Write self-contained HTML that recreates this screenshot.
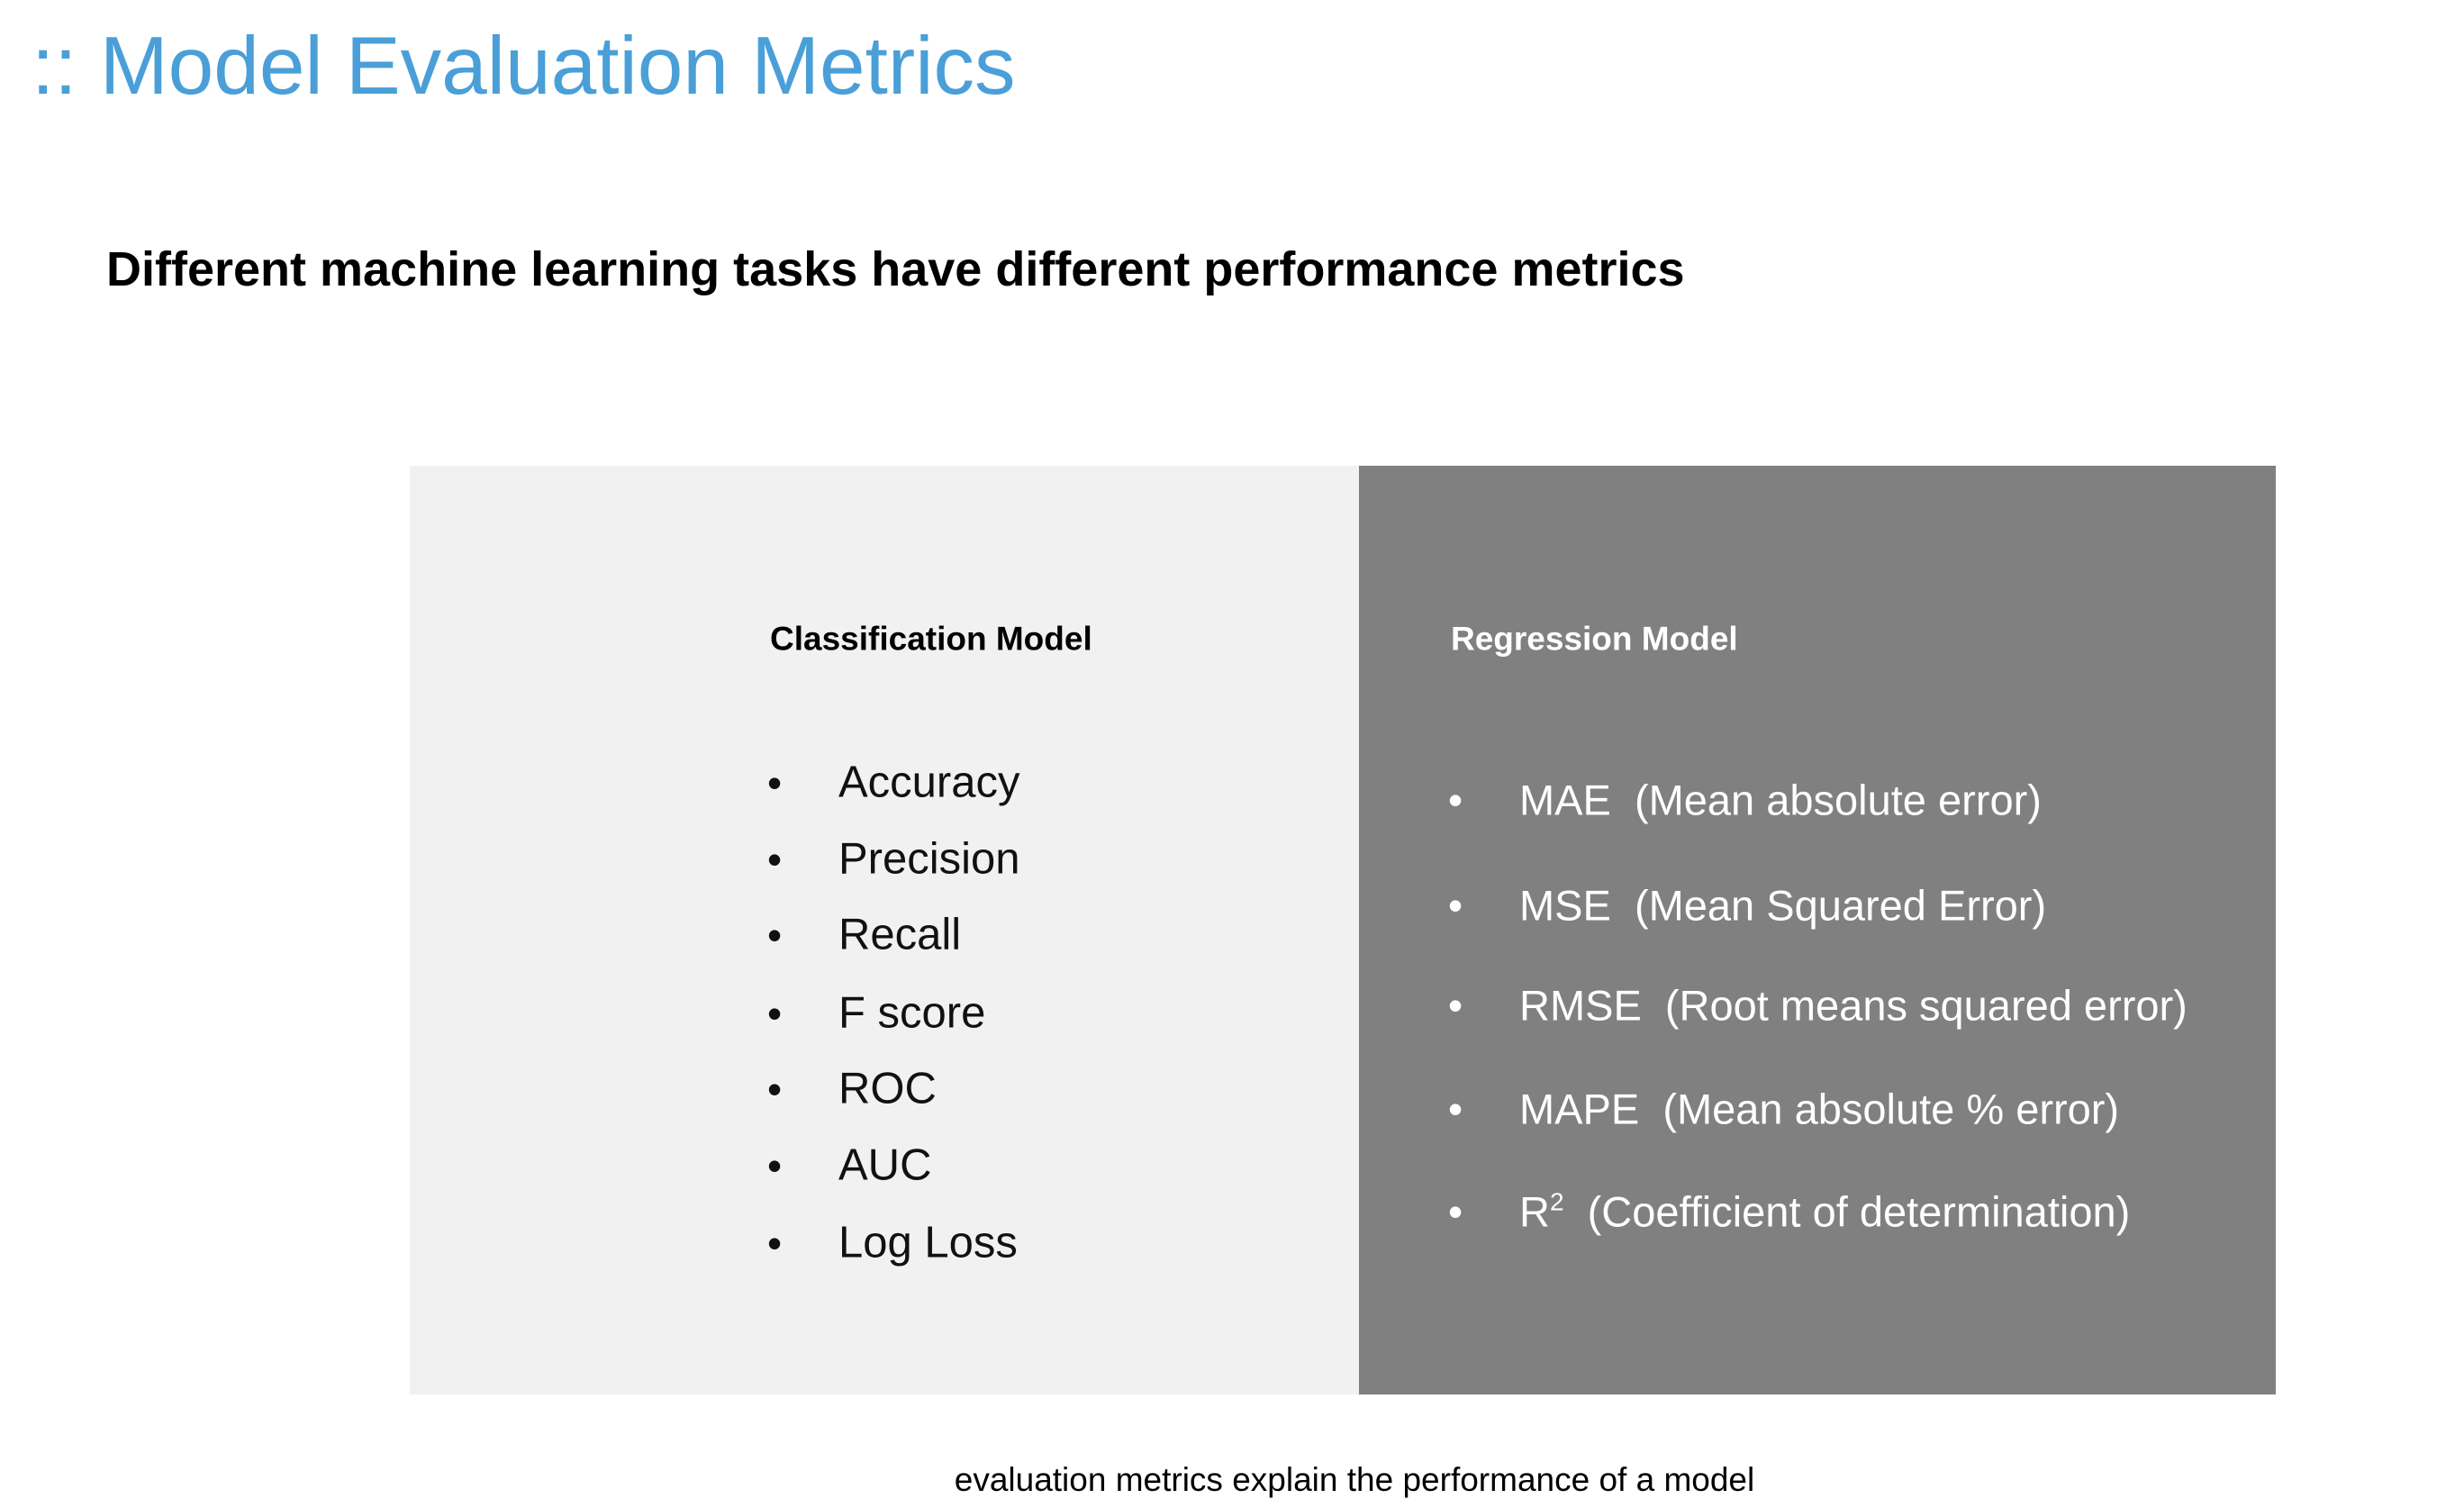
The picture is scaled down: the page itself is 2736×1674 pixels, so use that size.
<!DOCTYPE html>
<html><head><meta charset="utf-8"><style>
body{margin:0;width:2736px;height:1674px;background:#fff;position:relative;overflow:hidden;font-family:"Liberation Sans",sans-serif}
.a{position:absolute;white-space:nowrap;line-height:1}
.it{position:absolute;white-space:nowrap;font-size:49px;line-height:1;transform:translateY(-50%)}
</style></head><body>
<div class="a" style="left:35px;top:28px;font-size:91px;color:#4a9fd8;">:: Model Evaluation Metrics</div>
<div class="a" style="left:118px;top:272px;font-size:54px;font-weight:bold;color:#000;">Different machine learning tasks have different performance metrics</div>
<div style="position:absolute;left:455px;top:517px;width:1054px;height:1031px;background:#f1f1f1"></div>
<div style="position:absolute;left:1509px;top:517px;width:1018px;height:1031px;background:#808080"></div>
<div class="it" style="left:855px;top:709px;font-size:37px;font-weight:bold;color:#000">Classification Model</div>
<div class="it" style="left:1611px;top:709px;font-size:37px;font-weight:bold;color:#fff">Regression Model</div>
<div id="left"></div><div id="right"></div>
<div class="a" style="left:0;width:3008px;text-align:center;top:1624px;font-size:37px;color:#000">evaluation metrics explain the performance of a model</div>
<script>
const leftItems=["Accuracy","Precision","Recall","F score","ROC","AUC","Log Loss"];
const leftY=[869,954,1038,1125,1209,1294,1380];
const rightItems=["MAE&nbsp;&nbsp;(Mean absolute error)","MSE&nbsp;&nbsp;(Mean Squared Error)","RMSE&nbsp;&nbsp;(Root means squared error)","MAPE&nbsp;&nbsp;(Mean absolute % error)","R<sup style='font-size:28px;vertical-align:18px;line-height:0'>2</sup>&nbsp;&nbsp;(Coefficient of determination)"];
const rightY=[888,1005,1116,1231,1345];
function add(list,ys,bx,tx,col,nm,fs){
  list.forEach((t,i)=>{
    const b=document.createElement('div');b.className='it';
    
    
    b.style.left=bx+'px';b.style.top=ys[i]+'px';b.style.color=col;b.style.fontSize='46px';b.innerHTML='&bull;';
    document.body.appendChild(b);
    const e=document.createElement('div');e.className='it';
    
    
    e.style.left=tx+'px';e.style.top=ys[i]+'px';e.style.color=col;e.style.fontSize=fs+'px';e.innerHTML=t;
    document.body.appendChild(e);
  });
}
add(leftItems,leftY,852,931,'#111','classification-metric',49);
add(rightItems,rightY,1608,1687,'#fff','regression-metric',47);
</script>
</body></html>
